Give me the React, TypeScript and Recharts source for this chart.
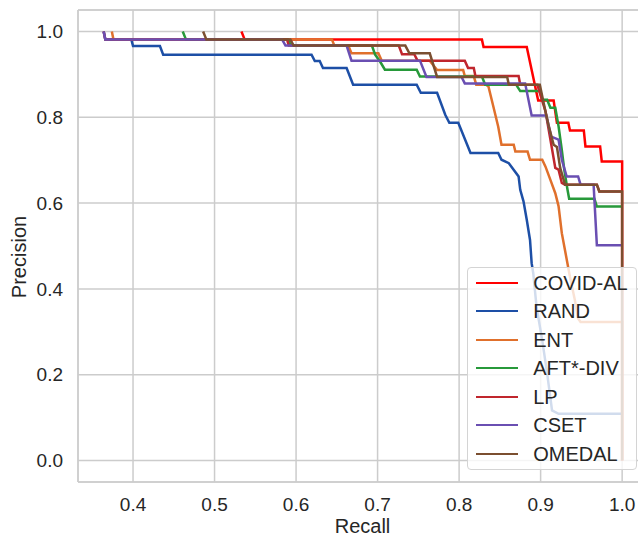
import React from 'react';
import { LineChart, Line, XAxis, YAxis, CartesianGrid, Legend, ReferenceLine, Label } from 'recharts';

const FONT = '"Liberation Sans", Arial, Helvetica, sans-serif';

const covidRecall = [0.533, 0.537, 0.828, 0.830, 0.883, 0.897, 0.916, 0.920, 0.934, 0.936, 0.953, 0.955, 0.973, 0.975, 1.0, 1.0];
const covidPrecision = [1.0, 0.981, 0.981, 0.964, 0.964, 0.839, 0.839, 0.787, 0.787, 0.769, 0.769, 0.732, 0.732, 0.697, 0.697, 0.0];

const randRecall = [0.364, 0.366, 0.398, 0.400, 0.433, 0.437, 0.619, 0.623, 0.629, 0.633, 0.662, 0.670, 0.748, 0.753, 0.773, 0.783, 0.788, 0.799, 0.814, 0.848, 0.852, 0.861, 0.873, 0.875, 0.879, 0.883, 0.887, 0.889, 0.891, 0.895, 0.902, 0.908, 0.914, 0.922, 1.0];
const randPrecision = [1.0, 0.981, 0.981, 0.966, 0.966, 0.946, 0.946, 0.931, 0.931, 0.915, 0.915, 0.876, 0.876, 0.857, 0.857, 0.806, 0.787, 0.787, 0.717, 0.717, 0.701, 0.693, 0.662, 0.631, 0.604, 0.561, 0.514, 0.460, 0.436, 0.358, 0.280, 0.203, 0.117, 0.109, 0.109];

const entRecall = [0.374, 0.376, 0.644, 0.647, 0.664, 0.668, 0.701, 0.705, 0.764, 0.773, 0.805, 0.807, 0.818, 0.821, 0.833, 0.836, 0.842, 0.848, 0.852, 0.867, 0.869, 0.884, 0.887, 0.902, 0.906, 0.912, 0.918, 0.922, 0.926, 0.931, 0.936, 0.942, 0.946, 0.949, 1.0, 1.0];
const entPrecision = [1.0, 0.981, 0.981, 0.967, 0.967, 0.949, 0.949, 0.932, 0.932, 0.910, 0.910, 0.896, 0.896, 0.876, 0.876, 0.872, 0.825, 0.778, 0.736, 0.736, 0.720, 0.720, 0.701, 0.701, 0.685, 0.654, 0.623, 0.593, 0.530, 0.479, 0.428, 0.374, 0.331, 0.323, 0.323, 0.0];

const aftRecall = [0.461, 0.465, 0.590, 0.594, 0.693, 0.697, 0.703, 0.709, 0.748, 0.752, 0.828, 0.832, 0.870, 0.875, 0.899, 0.902, 0.908, 0.912, 0.918, 0.922, 0.926, 0.929, 0.933, 0.935, 0.966, 0.969, 1.0];
const aftPrecision = [1.0, 0.981, 0.981, 0.967, 0.967, 0.946, 0.930, 0.911, 0.911, 0.895, 0.895, 0.876, 0.876, 0.861, 0.861, 0.841, 0.841, 0.822, 0.822, 0.779, 0.724, 0.678, 0.631, 0.610, 0.610, 0.592, 0.592];

const lpRecall = [0.364, 0.366, 0.589, 0.591, 0.726, 0.730, 0.745, 0.749, 0.807, 0.811, 0.818, 0.820, 0.873, 0.875, 0.896, 0.899, 0.906, 0.912, 0.918, 0.922, 0.926, 0.930, 0.969, 0.972, 1.0];
const lpPrecision = [1.0, 0.981, 0.981, 0.967, 0.967, 0.947, 0.947, 0.932, 0.932, 0.915, 0.915, 0.896, 0.896, 0.876, 0.876, 0.857, 0.814, 0.748, 0.682, 0.678, 0.647, 0.643, 0.643, 0.627, 0.627];

const csetRecall = [0.364, 0.366, 0.583, 0.587, 0.662, 0.668, 0.752, 0.760, 0.803, 0.807, 0.881, 0.889, 0.907, 0.913, 0.922, 0.926, 0.932, 0.946, 0.949, 0.965, 0.969, 1.0];
const csetPrecision = [1.0, 0.981, 0.981, 0.967, 0.967, 0.932, 0.932, 0.894, 0.894, 0.879, 0.879, 0.804, 0.804, 0.755, 0.748, 0.701, 0.662, 0.662, 0.643, 0.643, 0.502, 0.502];

const omedalRecall = [0.486, 0.490, 0.593, 0.597, 0.734, 0.739, 0.764, 0.773, 0.859, 0.861, 0.899, 0.906, 0.910, 0.916, 0.920, 0.924, 0.930, 0.969, 0.972, 1.0, 1.0];
const omedalPrecision = [1.0, 0.981, 0.981, 0.967, 0.967, 0.949, 0.949, 0.894, 0.894, 0.876, 0.876, 0.813, 0.779, 0.736, 0.731, 0.682, 0.643, 0.643, 0.627, 0.627, 0.0];

const xTicks = [0.4, 0.5, 0.6, 0.7, 0.8, 0.9, 1.0];
const yTicks = [0.0, 0.2, 0.4, 0.6, 0.8, 1.0];

const zip = (r: number[], p: number[]) => r.map((x, i) => ({ x, y: p[i] }));

const series = [
  { name: 'COVID-AL', color: '#ff0000', data: zip(covidRecall, covidPrecision) },
  { name: 'RAND', color: '#1d4fa6', data: zip(randRecall, randPrecision) },
  { name: 'ENT', color: '#e0702c', data: zip(entRecall, entPrecision) },
  { name: 'AFT*-DIV', color: '#27993a', data: zip(aftRecall, aftPrecision) },
  { name: 'LP', color: '#c0262d', data: zip(lpRecall, lpPrecision) },
  { name: 'CSET', color: '#6a4fb2', data: zip(csetRecall, csetPrecision) },
  { name: 'OMEDAL', color: '#7b4f30', data: zip(omedalRecall, omedalPrecision) },
];
const seriesNames = series.map((s) => s.name);

const GRID = '#cccccc';
const TEXT = '#262626';

const renderLegend = (props: any) => {
  const items = [...(props.payload || [])].sort(
    (a: any, b: any) => seriesNames.indexOf(a.value) - seriesNames.indexOf(b.value)
  );
  return (
    <div
      style={{
        width: 170,
        height: 203,
        boxSizing: 'border-box',
        background: 'rgba(255,255,255,0.8)',
        border: '1px solid #d4d4d4',
        borderRadius: 4,
        fontFamily: FONT,
        fontSize: 20,
        color: TEXT,
      }}
    >
      {items.map((it: any) => (
        <div key={it.value} style={{ height: 28.5, display: 'flex', alignItems: 'center', paddingLeft: 8 }}>
          <span
            style={{
              display: 'inline-block',
              width: 42,
              height: 0,
              borderTop: `2.5px solid ${it.color}`,
              marginRight: 15.5,
            }}
          />
          <span style={{ lineHeight: '20px', whiteSpace: 'nowrap' }}>{it.value}</span>
        </div>
      ))}
    </div>
  );
};

const fmt = (v: number) => v.toFixed(1);

export default function App() {
  return (
    <div style={{ position: 'fixed', left: 8, top: 8, width: 660, height: 529, background: '#fff' }}>
      <LineChart width={660} height={529} margin={{ top: 2, right: 21, bottom: 0, left: 0 }}>
        <CartesianGrid stroke={GRID} strokeWidth={1.5} />
        <XAxis
          type="number"
          dataKey="x"
          domain={[0.3325, 1.0305]}
          allowDataOverflow
          ticks={xTicks}
          tickFormatter={fmt}
          height={55}
          tickLine={false}
          tickSize={0}
          tickMargin={16}
          axisLine={{ stroke: GRID, strokeWidth: 1.5 }}
          tick={{ fill: TEXT, fontSize: 19, fontFamily: FONT }}
        >
          <Label value="Recall" position="insideBottom" offset={4} style={{ fill: TEXT, fontSize: 20, fontFamily: FONT }} />
        </XAxis>
        <YAxis
          type="number"
          domain={[-0.05, 1.05]}
          allowDataOverflow
          ticks={yTicks}
          tickFormatter={fmt}
          width={70}
          tickLine={false}
          tickSize={0}
          tickMargin={15}
          axisLine={{ stroke: GRID, strokeWidth: 1.5 }}
          tick={{ fill: TEXT, fontSize: 19, fontFamily: FONT }}
        >
          <Label
            content={() => (
              <text
                transform="translate(17.5, 249) rotate(-90)"
                textAnchor="middle"
                style={{ fill: TEXT, fontSize: 20, fontFamily: FONT }}
              >
                Precision
              </text>
            )}
          />
        </YAxis>
        <ReferenceLine y={1.05} stroke={GRID} strokeWidth={1.5} />
        {series.map((s) => (
          <Line
            key={s.name}
            name={s.name}
            data={s.data}
            dataKey="y"
            type="linear"
            stroke={s.color}
            strokeWidth={2.5}
            dot={false}
            activeDot={false}
            isAnimationActive={false}
          />
        ))}
        <Legend
          layout="vertical"
          align="center"
          verticalAlign="middle"
          content={renderLegend}
          wrapperStyle={{ position: 'absolute', left: 458.7, top: 259.3, width: 170, height: 203 }}
        />
      </LineChart>
    </div>
  );
}
